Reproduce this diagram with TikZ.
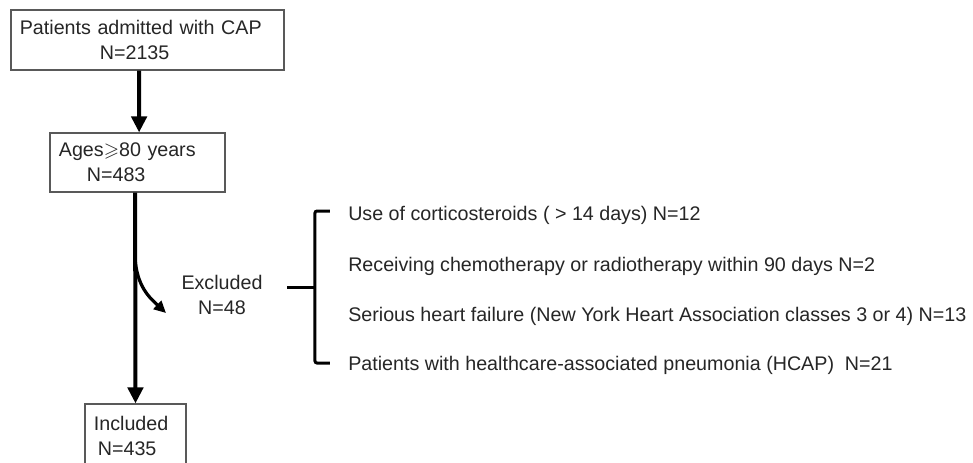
\documentclass[tikz,border=0pt]{standalone}
\usepackage{amssymb}
\usepackage{fontspec}
\setmainfont{Liberation Sans}
\usetikzlibrary{arrows.meta,positioning}

\begin{document}
\begin{tikzpicture}[
  x=0.025cm,y=-0.025cm,
  font=\fontsize{14}{17.8}\selectfont,
  box/.style={draw=black!65,line width=0.8pt,align=left,inner xsep=0.22cm,
              inner ysep=0pt,text=black!85},
  item/.style={anchor=west,inner xsep=0pt,text=black!85},
  arr/.style={-{Triangle[length=0.4cm,width=0.38cm]},line width=0.1cm},
  bendarr/.style={-{Triangle[length=0.3cm,width=0.28cm]},line width=0.08cm},
  brace/.style={line width=0.075cm,rounded corners=0.05cm}
]
\useasboundingbox[fill=white] (0,0) rectangle (973,462);
\node[box,minimum width=6.825cm,minimum height=1.5cm,text width=6.38cm] (cap) at (147.5,40)
{Patients admitted with CAP\\\hspace*{2cm}N=2135};
\node[box,minimum width=4.375cm,minimum height=1.475cm,text width=3.93cm] (age) at (137.5,162.5)
{Ages$\geqslant$80 years\\\hspace*{0.7cm}N=483};
\node[box,minimum width=2.525cm,minimum height=1.6cm,text width=2.08cm] (inc) at (135.5,436)
{Included\\\hspace*{0.1cm}N=435};
\node[align=center,text=black!85] (exc) at (222,295) {Excluded\\N=48};
\node[item] (c1) at (348,215) {Use of corticosteroids ( > 14 days) N=12};
\node[item] (c2) at (348,266) {Receiving chemotherapy or radiotherapy within 90 days N=2};
\node[item] (c3) at (348,316) {Serious heart failure (New York Heart Association classes 3 or 4) N=13};
\node[item] (c4) at (348,365) {Patients with healthcare-associated pneumonia (HCAP)\ \ N=21};
\draw[arr] ([xshift=-0.21cm]cap.south) -- ([xshift=0.04cm]age.north);
\draw[arr] ([xshift=-0.06cm]age.south) -- (inc.north);
\coordinate (split) at (135,258);
\coordinate (excend) at (166,313);
\draw[bendarr] (split) .. controls (137,287) and (150,298) .. (excend);
\draw[brace] ([xshift=-0.45cm,yshift=0.1cm]c1.west) -| ([xshift=-0.825cm,yshift=0.05cm]c4.west)
  -- ([xshift=-0.45cm,yshift=0.05cm]c4.west);
\coordinate (bmid) at (315,287);
\coordinate (bleft) at (287,287);
\draw[brace] (bleft) -- (bmid);
\end{tikzpicture}
\end{document}
